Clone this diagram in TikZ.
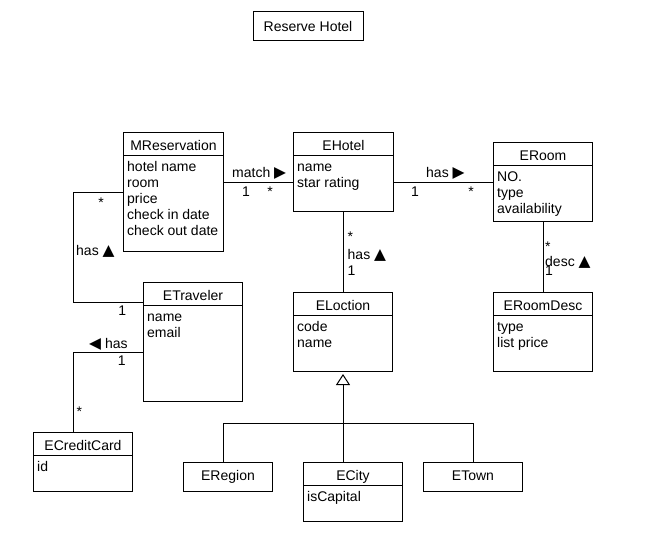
\documentclass[tikz,border=0pt]{standalone}
\usepackage{fontspec}
\setmainfont{Liberation Sans}
\newfontfamily\symfont{DejaVu Sans}
\usetikzlibrary{arrows.meta}
\tikzset{
  clsbox/.style={draw, line width=1pt, inner sep=0pt, anchor=north west},
  hdr/.style={anchor=base, inner sep=0pt},
  attr/.style={anchor=base west, inner sep=0pt},
  lblw/.style={anchor=base west, inner sep=0pt},
  lblc/.style={anchor=base, inner sep=0pt},
  conn/.style={line width=1pt},
}
\newcommand\umlcls[7]{%
  \node[clsbox, minimum width=#4pt, minimum height=#5pt] (#1) at (#2,#3) {};
  \draw[line width=1pt] ([yshift=-23pt]#1.north west) -- ([yshift=-23pt]#1.north east);
  \node[hdr] (#1-t) at ([yshift=-18pt]#1.north) {#6};
  \foreach \t [count=\i] in {#7}
    \node[attr] (#1-a\i) at ([xshift=4pt,yshift={-23pt-16pt*\i}]#1.north west) {\t};
}
\newcommand\umlsimple[6]{%
  \node[clsbox, minimum width=#4pt, minimum height=#5pt] (#1) at (#2,#3) {};
  \node[hdr] (#1-t) at ([yshift=-18pt]#1.north) {#6};
}
\newcommand\rtri{{\symfont\fontsize{15.5}{16}\selectfont ▶}}
\newcommand\ltri{{\symfont\fontsize{15.5}{16}\selectfont ◀}}
\newcommand\utri{{\symfont\fontsize{15.5}{16}\selectfont ▲}}
\begin{document}
\begin{tikzpicture}[x=1pt,y=-1pt,font=\fontsize{14}{16}\selectfont]
\fill[white] (0,0) rectangle (666,559);
\useasboundingbox (0,0) rectangle (666,559);

% title
\node[draw, line width=1pt, minimum width=110pt, minimum height=29pt, inner sep=0pt] (title) at (308,26.5) {Reserve Hotel};

% classes
\umlcls{mres}{123}{132}{100}{119}{MReservation}{hotel name, room, price, check in date, check out date}
\umlcls{hotel}{293}{132}{100}{79}{EHotel}{name, star rating}
\umlcls{room}{493}{142}{99}{79}{ERoom}{NO., type, availability}
\umlcls{loc}{293}{292}{99}{79}{ELoction}{code, name}
\umlcls{rdesc}{493}{292}{99}{79}{ERoomDesc}{type, list price}
\umlcls{trav}{143}{282}{99}{119}{ETraveler}{name, email}
\umlcls{credit}{33}{432}{99}{59}{ECreditCard}{id}
\umlcls{city}{303}{462}{99}{59}{ECity}{isCapital}
\umlsimple{region}{183}{462}{89}{29}{ERegion}
\umlsimple{town}{423}{462}{99}{29}{ETown}

% MReservation -- EHotel
\draw[conn] (mres.east |- 0,182) -- (hotel.west |- 0,182);
\node[lblw] (l-match) at (232,177.5) {match \rtri};
\node[lblc] (l-m1) at (246,196) {1};
\node[lblc] (l-m2) at (270,196) {*};

% EHotel -- ERoom
\draw[conn] (hotel.east |- 0,182) -- (room.west |- 0,182);
\node[lblw] (l-has1) at (426,177.5) {has \rtri};
\node[lblc] (l-h1) at (415,196) {1};
\node[lblc] (l-h2) at (471,196) {*};

% EHotel -- ELoction
\draw[conn] (hotel.south) -- (loc.north -| hotel.south);
\node[lblw] (l-hl1) at (347.5,241) {*};
\node[lblw] (l-hl2) at (347.5,259) {has \utri};
\node[lblw] (l-hl3) at (347.5,275) {1};

% ERoom -- ERoomDesc
\draw[conn] (room.south) -- (rdesc.north -| room.south);
\node[lblw] (l-rd1) at (545,251) {*};
\node[lblw] (l-rd2) at (545,266) {desc \utri};
\node[lblw] (l-rd3) at (545,275) {1};

% MReservation -- ETraveler
\coordinate (c1) at (73,192);
\coordinate (c2) at (73,302);
\draw[conn] (mres.west |- c1) -- (c1) -- (c2) -- (trav.west |- c2);
\node[lblc] (l-mt1) at (101,207) {*};
\node[lblw] (l-mt2) at (76,255) {has \utri};
\node[lblc] (l-mt3) at (122.3,315.7) {1};

% ETraveler -- ECreditCard
\coordinate (c3) at (73,352);
\draw[conn] (trav.west |- c3) -- (c3) -- (credit.north -| c3);
\node[lblw] (l-tc1) at (89,348.3) {\ltri{} has};
\node[lblc] (l-tc2) at (121.7,365.7) {1};
\node[lblc] (l-tc3) at (79.3,416) {*};

% generalization
\coordinate (gj) at (343,423);
\coordinate (gl) at (223,423);
\coordinate (gr) at (473,423);
\draw[conn, -{Triangle[open, width=14pt, length=11pt, line width=1pt]}, shorten >=2pt] (gj) -- (loc.south -| gj);
\draw[conn] (region.north -| gl) -- (gl) -- (gr) -- (town.north -| gr);
\draw[conn] (city.north -| gj) -- (gj);
\end{tikzpicture}
\end{document}
